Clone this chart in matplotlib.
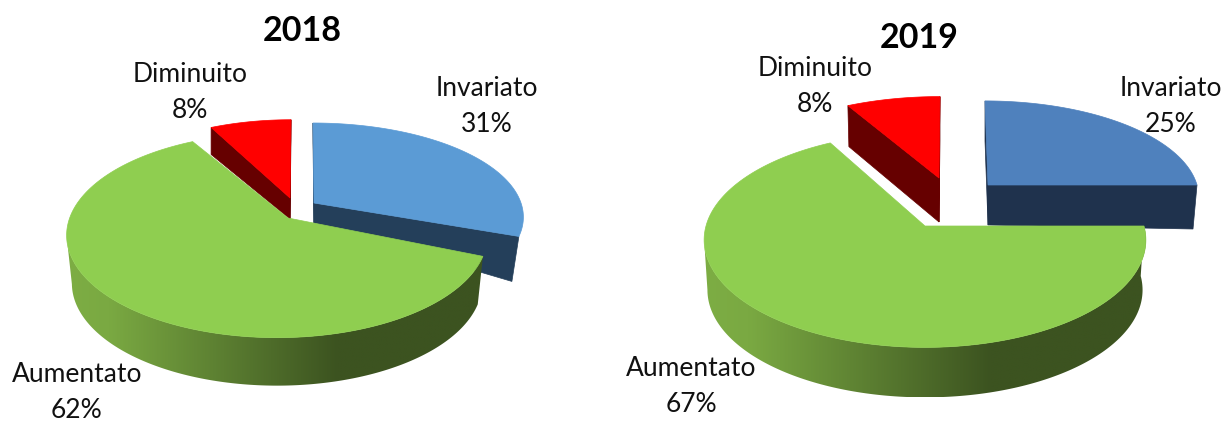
import numpy as np
from matplotlib import pyplot as plt
from matplotlib.colors import LinearSegmentedColormap
from matplotlib.patches import Polygon

plt.rcParams['font.family'] = ['Lato', 'DejaVu Sans']

# dati
labels = ['Invariato', 'Aumentato', 'Diminuito']
values_2018 = [30.6, 61.8, 7.6]
values_2019 = [25, 67, 8]

top_colors_2018 = ['#5B9BD5', '#8FCE50', '#FF0000']
top_colors_2019 = ['#4F81BD', '#8FCE50', '#FF0000']
side_colors_2018 = ['#243F5A', None, '#660000']
side_colors_2019 = ['#1F324D', None, '#660000']

# geometria in pixel: cx, cy, rx, ry, apice x, apice y, spessore interno, spessore esterno, dx esterno
geom_2018 = [(313, 203, 208, 92, 314, 203, 20, 45, -7),
             (277, 220, 208, 100, 288, 218, 48, 48, 0),
             (291, 198, 197, 90, 290, 198, 21, 27, 0)]
geom_2019 = [(985, 185, 212, 95, 988, 185, 40, 44, -4),
             (925, 226, 219, 105.6, 925, 226, 50, 50, 0),
             (940, 178, 213, 92, 939, 178, 44, 41, 1)]
# quale taglio si vede per ogni fetta (0 inizio, 1 fine)
open_cut = [1, None, 0]

wall_cmap = LinearSegmentedColormap.from_list(
    'wall', [(0, '#7DAD44'), (0.1, '#7AA942'), (0.65, '#3C5320'), (1, '#3C5320')])


def rim(theta, g, k):
    cx, cy, rx, ry = g[:4]
    u = np.sin(theta)
    v = -np.cos(theta)
    w = 1 - k * v
    return cx + rx * u / w, cy + ry * v / w


def draw_pie(ax, values, top_colors, side_colors, geom, k, wall_scale):
    total = sum(values)
    start = 0.0
    slices = []
    for val, g in zip(values, geom):
        end = start + val / total * 2 * np.pi
        slices.append((start, end, g))
        start = end

    # prima le fette esplose, il verde sta davanti
    for i in [0, 2, 1]:
        t0, t1, g = slices[i]
        ax_x, ax_y, d_in, d_out, dx = g[4:]
        theta = np.linspace(t0, t1, 240)
        x, y = rim(theta, g, k)
        if side_colors[i] is not None:
            for n, t in enumerate((t0, t1)):
                px, py = rim(t, g, k)
                if n == open_cut[i]:
                    low = (px + dx, py + d_out)
                else:
                    low = (px, py + d_in)
                cut = [(px, py), (ax_x, ax_y), (ax_x, ax_y + d_in), low]
                ax.add_patch(Polygon(cut, fc=side_colors[i], ec=side_colors[i], lw=0.5))
        else:
            cx = g[0]
            xb = cx + (x - cx) * wall_scale
            yb = y + d_out
            # solo la parte davanti, fino al punto piu a sinistra dei due bordi
            it = np.argmin(x)
            ib = np.argmin(xb)
            wall_x = np.r_[x[:it + 1], xb[:ib + 1][::-1]]
            wall_y = np.r_[y[:it + 1], yb[:ib + 1][::-1]]
            wall = Polygon(np.column_stack([wall_x, wall_y]),
                           fc='none', ec='none', transform=ax.transData)
            ax.add_patch(wall)
            im = ax.imshow(np.linspace(0, 1, 256).reshape(1, -1), cmap=wall_cmap, aspect='auto',
                           extent=(x.min(), x.max(), y.max() + d_out, y.min()),
                           interpolation='bilinear', zorder=1)
            im.set_clip_path(wall)
        face = np.column_stack([np.r_[ax_x, x], np.r_[ax_y, y]])
        ax.add_patch(Polygon(face, fc=top_colors[i], ec=top_colors[i], lw=0.5, zorder=2))


fig = plt.figure(figsize=(12.31, 4.23), dpi=100)
ax = fig.add_axes([0, 0, 1, 1])

draw_pie(ax, values_2018, top_colors_2018, side_colors_2018, geom_2018, 0.15, 0.975)
draw_pie(ax, values_2019, top_colors_2019, side_colors_2019, geom_2019, 0.13, 0.985)

ax.set_xlim(0, 1231)
ax.set_ylim(423, 0)
ax.axis('off')

ax.text(302, 31, '2018', fontsize=24.5, fontweight='bold', ha='center', va='center')
ax.text(919, 38, '2019', fontsize=24.5, fontweight='bold', ha='center', va='center')

# etichette: Invariato, Aumentato, Diminuito
pos_2018 = [(487, 106), (77, 392), (190, 92)]
pos_2019 = [(1171, 107), (691, 386), (815, 86)]
for pos, vals in ((pos_2018, values_2018), (pos_2019, values_2019)):
    for name, val, (x, y) in zip(labels, vals, pos):
        ax.text(x, y, f'{name}\n{val:.0f}%', fontsize=19, ha='center', va='center',
                linespacing=1.55, color='#111111', zorder=5)

fig.savefig('out.png', dpi=100)
